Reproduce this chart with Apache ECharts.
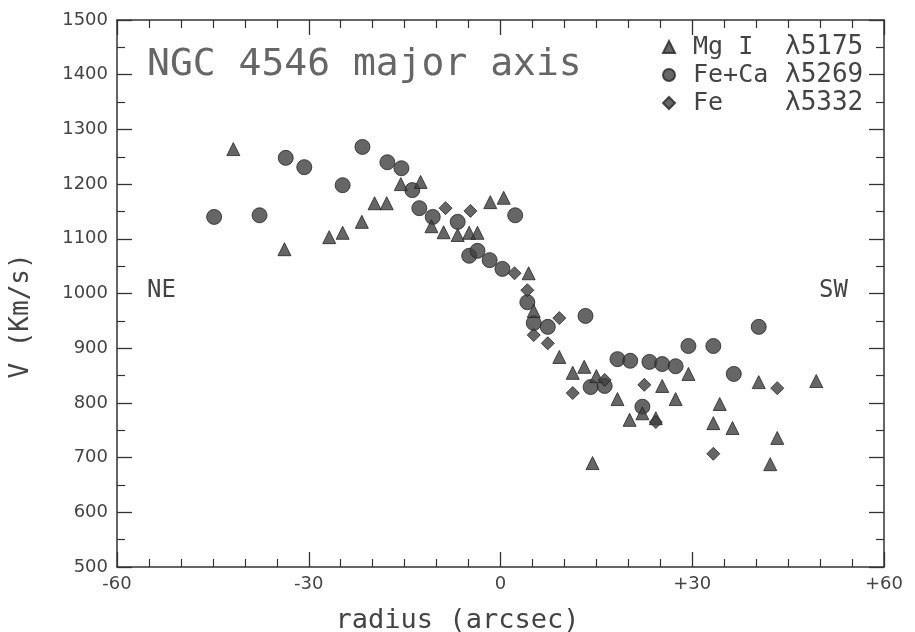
<!DOCTYPE html>
<html>
<head>
<meta charset="utf-8">
<script src="https://cdn.jsdelivr.net/npm/echarts@6/dist/echarts.min.js"></script>
<style>
html,body{margin:0;padding:0;background:#fff;}
#chart{width:915px;height:632px;}
</style>
</head>
<body>
<div id="chart"></div>
<script>
// Mg I λ5175 (triangles)
const mgRadius = [-41.8,-33.8,-26.8,-24.7,-21.7,-19.7,-17.8,-15.6,-12.5,-10.8,-8.9,-6.7,-4.9,-3.6,-1.6,0.5,4.4,5.2,9.2,11.3,13.1,14.4,15.0,18.3,20.2,22.2,24.3,25.3,27.4,29.4,33.3,34.3,36.3,40.4,43.3,42.2,49.4];
const mgVel    = [1264,1081,1103,1111,1131,1165,1165,1200,1204,1123,1112,1107,1111,1111,1167,1175,1037,968,884,855,866,690,849,807,769,781,772,831,807,853,763,798,754,838,736,688,840];
// Fe+Ca λ5269 (circles)
const fecaRadius = [-44.8,-37.7,-33.6,-30.7,-24.7,-21.6,-17.7,-15.5,-13.8,-12.7,-10.6,-6.7,-4.9,-3.6,-1.7,0.3,2.3,4.2,5.2,7.4,13.3,14.1,16.3,18.3,20.3,23.3,25.3,27.4,29.4,33.3,36.5,40.4,22.2];
const fecaVel    = [1140,1143,1248,1231,1198,1268,1240,1229,1189,1156,1140,1131,1069,1078,1061,1045,1143,984,946,939,959,829,831,880,877,875,871,867,904,904,853,939,793];
// Fe λ5332 (diamonds)
const feRadius = [-8.6,-4.7,2.2,4.2,5.2,7.4,9.2,11.3,16.3,22.5,24.3,33.3,43.3];
const feVel    = [1156,1151,1037,1006,924,909,955,818,842,833,765,707,827];

const seriesNames = ['Mg I','Fe+Ca','Fe'];
const seriesLines = ['λ5175','λ5269','λ5332'];
const xTicks = [-60,-30,0,30,60];

function zip(a,b){return a.map((v,i)=>[v,b[i]]);}

const chart = echarts.init(document.getElementById('chart'), null, {renderer:'canvas'});
const axisCol = '#333';
const tickLabel = {color:'#444', fontFamily:'DejaVu Sans', fontSize:18};
const baseAxisX = {
  type:'value', min:-60, max:60, interval:30,
  axisLine:{show:true, onZero:false, lineStyle:{color:axisCol, width:1.5}},
  axisTick:{show:true, inside:true, length:15, lineStyle:{color:axisCol, width:1.3}},
  minorTick:{show:true, splitNumber:6, length:8, lineStyle:{color:axisCol, width:1.2}},
  splitLine:{show:false}
};
const baseAxisY = {
  type:'value', min:500, max:1500, interval:100,
  axisLine:{show:true, onZero:false, lineStyle:{color:axisCol, width:1.5}},
  axisTick:{show:true, inside:true, length:15, lineStyle:{color:axisCol, width:1.3}},
  minorTick:{show:true, splitNumber:2, length:8, lineStyle:{color:axisCol, width:1.2}},
  splitLine:{show:false}
};
const mk = {color:'#404040', borderColor:'#262626', borderWidth:1};
const option = {
  backgroundColor:'#fff',
  animation:false,
  grid:{left:117, right:31, top:20, bottom:65},
  xAxis:[
    Object.assign({}, baseAxisX, {position:'bottom',
      axisLabel:{show:true, margin:8, ...tickLabel, formatter:v=> xTicks.includes(v) ? (v>0?'+'+v:String(v)) : ''}}),
    Object.assign({}, baseAxisX, {position:'top', axisLabel:{show:false}})
  ],
  yAxis:[
    Object.assign({}, baseAxisY, {position:'left', axisLabel:{show:true, margin:9, ...tickLabel, formatter:v=>String(v)}}),
    Object.assign({}, baseAxisY, {position:'right', axisLabel:{show:false}})
  ],
  legend:{
    orient:'vertical', left:657, top:29, itemGap:2, itemWidth:12, itemHeight:12,
    data:seriesNames,
    textStyle:{fontFamily:'DejaVu Sans Mono', fontSize:25, color:'#444', lineHeight:26,
      rich:{n:{width:92, padding:[0,0,0,13], fontFamily:'DejaVu Sans Mono', fontSize:25, color:'#444'},
            l:{fontFamily:'DejaVu Sans Mono', fontSize:26, color:'#444'}}},
    formatter:function(name){const i=seriesNames.indexOf(name); return '{n|'+name+'}{l|'+seriesLines[i]+'}';}
  },
  graphic:[
    {type:'text', left:147, top:46, style:{text:'NGC 4546 major axis', font:'38px "DejaVu Sans Mono"', fill:'#666'}},
    {type:'text', left:147, top:279, style:{text:'NE', font:'24px "DejaVu Sans Mono"', fill:'#444'}},
    {type:'text', left:819, top:279, style:{text:'SW', font:'24px "DejaVu Sans Mono"', fill:'#444'}},
    {type:'text', left:'center', top:607, style:{text:'radius (arcsec)', font:'27px "DejaVu Sans Mono"', fill:'#444'}},
    {type:'text', left:8, top:'middle', rotation:Math.PI/2, style:{text:'V (Km/s)', font:'26px "DejaVu Sans Mono"', fill:'#444'}}
  ],
  series:[
    {name:'Mg I', type:'scatter', symbol:'triangle', symbolSize:13, itemStyle:mk, data:zip(mgRadius,mgVel), z:3},
    {name:'Fe+Ca', type:'scatter', symbol:'circle', symbolSize:15, itemStyle:mk, data:zip(fecaRadius,fecaVel), z:2},
    {name:'Fe', type:'scatter', symbol:'diamond', symbolSize:13, itemStyle:mk, data:zip(feRadius,feVel), z:4}
  ]
};
chart.setOption(option);
</script>
</body>
</html>
